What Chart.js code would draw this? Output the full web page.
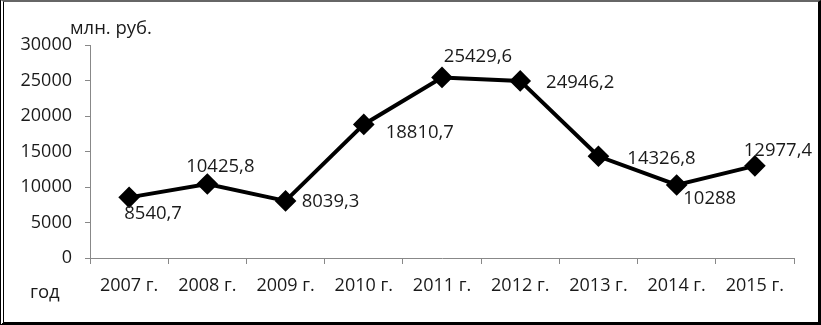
<!DOCTYPE html>
<html>
<head>
<meta charset="utf-8">
<script src="https://cdn.jsdelivr.net/npm/chart.js@4/dist/chart.umd.min.js"></script>
<style>
  html, body { margin: 0; padding: 0; background: #fff; }
  #wrap {
    position: relative; width: 821px; height: 325px; box-sizing: border-box;
    border-left: 4px double #000; border-top: 2px solid #666;
    border-right: 3px solid #000; border-bottom: 3px solid #000;
  }
  #chart { position: absolute; left: -4px; top: -2px; }
</style>
</head>
<body>
<div id="wrap"><canvas id="chart" width="821" height="325"></canvas></div>
<script>
// data
const years = ["2007 г.", "2008 г.", "2009 г.", "2010 г.", "2011 г.", "2012 г.", "2013 г.", "2014 г.", "2015 г."];
const values = [8540.7, 10425.8, 8039.3, 18810.7, 25429.6, 24946.2, 14326.8, 10288, 12977.4];
const yTicks = [0, 5000, 10000, 15000, 20000, 25000, 30000];

// where each value label sits relative to its point
const labelShift = [[24, 16], [13, -17], [45, 1], [56, 8], [36, -21], [60, 2], [63, 2], [33, 14], [23, -15]];

const FONT = "'Open Sans', sans-serif";

const pointLabels = {
  id: "pointLabels",
  afterDatasetsDraw(chart) {
    const ctx = chart.ctx;
    const meta = chart.getDatasetMeta(0);
    ctx.save();
    ctx.font = "18.5px " + FONT;
    ctx.fillStyle = "#1a1a1a";
    ctx.textAlign = "center";
    ctx.textBaseline = "middle";
    meta.data.forEach(function (pt, i) {
      const txt = String(values[i]).replace(".", ",");
      ctx.fillText(txt, pt.x + labelShift[i][0], pt.y + labelShift[i][1]);
    });
    // axis titles
    ctx.textAlign = "left";
    ctx.fillText("млн. руб.", 70, 29);
    ctx.fillText("год", 30, 293);
    ctx.restore();
  },
};

new Chart(document.getElementById("chart"), {
  type: "line",
  data: {
    labels: years,
    datasets: [
      {
        data: values,
        borderColor: "#000",
        backgroundColor: "#000",
        borderWidth: 4,
        pointStyle: "rectRot",
        pointRadius: 8,
        pointHoverRadius: 8,
        tension: 0,
      },
    ],
  },
  options: {
    responsive: false,
    animation: false,
    layout: { padding: { top: 45, right: 27, left: 0, bottom: 0 } },
    plugins: { legend: { display: false }, tooltip: { enabled: false } },
    scales: {
      x: {
        offset: true,
        grid: { offset: true, drawOnChartArea: false, tickLength: 6, color: "#888" },
        border: { color: "#888" },
        ticks: { color: "#1a1a1a", font: { family: FONT, size: 18 }, padding: 11, maxRotation: 0 },
        afterFit(scale) { scale.height = 67; },
      },
      y: {
        min: 0,
        max: 30000,
        afterBuildTicks(scale) { scale.ticks = yTicks.map(v => ({ value: v })); },
        grid: { drawOnChartArea: false, tickLength: 5, color: "#888" },
        border: { color: "#888" },
        ticks: {
          color: "#1a1a1a",
          font: { family: FONT, size: 18 },
          padding: 13,
          callback: v => String(v),
        },
        afterFit(scale) { scale.width = 90; },
      },
    },
  },
  plugins: [pointLabels],
});
</script>
</body>
</html>
